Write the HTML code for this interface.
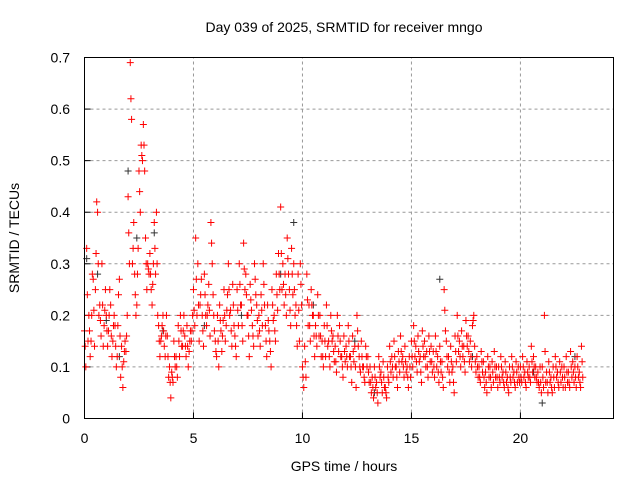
<!DOCTYPE html>
<html><head><meta charset="utf-8"><style>
html,body{margin:0;padding:0;background:#fff;}
svg text{font-family:"Liberation Sans",sans-serif;font-size:14px;fill:#000;}
</style></head><body>
<svg id="chart" width="640" height="480" xmlns="http://www.w3.org/2000/svg">
<rect width="640" height="480" fill="#fff"/>
<text x="344" y="32" text-anchor="middle">Day 039 of 2025, SRMTID for receiver mngo</text>
<text x="344" y="471" text-anchor="middle">GPS time / hours</text>
<text transform="translate(19,238) rotate(-90)" text-anchor="middle">SRMTID / TECUs</text>
<g id="grid"></g>
<g id="ticks"></g>
<g id="pts"></g>
<rect x="84.5" y="57.5" width="529" height="361" fill="none" stroke="#000" stroke-width="1"/>
</svg>
<script>
const xTicks=[0,5,10,15,20];
const yTicks=[0,0.1,0.2,0.3,0.4,0.5,0.6,0.7];
const yTickLabels=["0","0.1","0.2","0.3","0.4","0.5","0.6","0.7"];
const redUpper=[0.17,0.33,0.2,0.15,0.27,0.25,0.4,0.22,0.3,0.18,
0.2,0.17,0.22,0.15,0.18,0.12,0.27,0.14,0.11,0.13,
0.43,0.69,0.3,0.28,0.22,0.48,0.53,0.57,0.35,0.3,
0.32,0.22,0.38,0.4,0.18,0.15,0.2,0.12,0.16,0.1,
0.09,0.15,0.12,0.18,0.2,0.14,0.16,0.18,0.13,0.15,
0.25,0.35,0.3,0.22,0.2,0.28,0.18,0.26,0.38,0.24,
0.15,0.2,0.22,0.13,0.25,0.18,0.3,0.21,0.26,0.16,
0.25,0.3,0.22,0.34,0.28,0.2,0.26,0.18,0.3,0.22,
0.2,0.24,0.3,0.18,0.22,0.15,0.25,0.2,0.28,0.32,
0.41,0.3,0.28,0.35,0.25,0.33,0.3,0.22,0.28,0.3,
0.1,0.14,0.28,0.22,0.25,0.2,0.18,0.24,0.2,0.15,
0.18,0.22,0.15,0.2,0.16,0.14,0.2,0.18,0.12,0.16,
0.14,0.18,0.12,0.16,0.14,0.2,0.12,0.15,0.1,0.14,
0.12,0.1,0.08,0.1,0.07,0.12,0.09,0.11,0.06,0.1,
0.14,0.12,0.15,0.1,0.13,0.16,0.12,0.14,0.1,0.12,
0.15,0.18,0.14,0.16,0.12,0.17,0.15,0.13,0.16,0.14,
0.13,0.16,0.12,0.14,0.11,0.25,0.15,0.12,0.14,0.1,
0.16,0.2,0.15,0.17,0.14,0.19,0.16,0.15,0.18,0.14,
0.12,0.1,0.13,0.11,0.09,0.12,0.1,0.11,0.13,0.1,
0.1,0.12,0.09,0.11,0.08,0.1,0.12,0.09,0.11,0.1,
0.1,0.12,0.09,0.11,0.1,0.14,0.12,0.1,0.09,0.1,
0.1,0.2,0.09,0.11,0.08,0.1,0.12,0.09,0.11,0.1,
0.1,0.12,0.09,0.13,0.11,0.1,0.12,0.09,0.14];
const redLower=[0.1,0.15,0.12,0.28,0.14,0.42,0.2,0.16,0.14,0.25,
0.14,0.25,0.12,0.2,0.1,0.24,0.08,0.06,0.15,0.2,
0.3,0.58,0.38,0.2,0.33,0.4,0.5,0.48,0.25,0.28,
0.25,0.3,0.28,0.2,0.12,0.18,0.14,0.2,0.08,0.04,
0.07,0.1,0.08,0.12,0.14,0.2,0.12,0.1,0.17,0.2,
0.18,0.2,0.15,0.27,0.14,0.2,0.22,0.16,0.3,0.17,
0.12,0.1,0.17,0.19,0.15,0.24,0.2,0.14,0.18,0.12,
0.18,0.22,0.15,0.25,0.2,0.12,0.21,0.14,0.24,0.16,
0.14,0.18,0.22,0.12,0.17,0.1,0.19,0.15,0.21,0.25,
0.25,0.22,0.2,0.28,0.18,0.24,0.2,0.14,0.15,0.22,
0.06,0.08,0.18,0.15,0.2,0.12,0.14,0.16,0.12,0.1,
0.12,0.14,0.1,0.15,0.11,0.09,0.13,0.12,0.08,0.11,
0.1,0.12,0.07,0.11,0.06,0.14,0.09,0.1,0.07,0.1,
0.07,0.05,0.04,0.06,0.03,0.08,0.05,0.06,0.04,0.07,
0.09,0.08,0.1,0.06,0.09,0.11,0.08,0.09,0.06,0.08,
0.1,0.12,0.09,0.11,0.07,0.12,0.1,0.08,0.11,0.09,
0.08,0.1,0.07,0.09,0.06,0.17,0.1,0.07,0.09,0.05,
0.11,0.13,0.1,0.12,0.09,0.14,0.11,0.1,0.2,0.09,
0.08,0.07,0.09,0.06,0.05,0.08,0.06,0.07,0.08,0.06,
0.07,0.08,0.06,0.07,0.05,0.07,0.08,0.06,0.07,0.07,
0.07,0.08,0.06,0.08,0.07,0.09,0.08,0.07,0.06,0.05,
0.06,0.07,0.05,0.07,0.05,0.06,0.08,0.06,0.07,0.06,
0.06,0.07,0.06,0.08,0.07,0.06,0.08,0.06,0.08];
const redMidA=[0.14,0.24,0.17,0.2,0.21,0.32,0.3,0.19,0.22,0.21,
0.17,0.2,0.16,0.18,0.14,0.18,0.16,0.1,0.13,0.16,
0.36,0.62,0.33,0.24,0.28,0.44,0.51,0.53,0.3,0.29,
0.28,0.26,0.33,0.3,0.15,0.16,0.17,0.16,0.12,0.07,
0.08,0.12,0.1,0.15,0.17,0.17,0.14,0.14,0.15,0.17,
0.21,0.27,0.22,0.24,0.17,0.24,0.2,0.21,0.34,0.2,
0.13,0.15,0.19,0.16,0.2,0.21,0.25,0.17,0.22,0.14,
0.21,0.26,0.18,0.29,0.24,0.16,0.23,0.16,0.27,0.19,
0.17,0.21,0.26,0.15,0.19,0.13,0.22,0.17,0.24,0.28,
0.32,0.26,0.24,0.31,0.21,0.28,0.25,0.18,0.21,0.26,
0.08,0.11,0.23,0.18,0.22,0.16,0.16,0.2,0.16,0.12,
0.15,0.18,0.12,0.17,0.13,0.11,0.16,0.15,0.1,0.13,
0.12,0.15,0.1,0.13,0.1,0.17,0.1,0.12,0.08,0.12,
0.09,0.07,0.06,0.08,0.05,0.1,0.07,0.08,0.05,0.08,
0.11,0.1,0.12,0.08,0.11,0.13,0.1,0.11,0.08,0.1,
0.12,0.15,0.11,0.13,0.09,0.14,0.12,0.1,0.13,0.11,
0.1,0.13,0.09,0.11,0.08,0.21,0.12,0.09,0.11,0.07,
0.13,0.16,0.12,0.14,0.11,0.16,0.13,0.12,0.19,0.11,
0.1,0.08,0.11,0.08,0.07,0.1,0.08,0.09,0.1,0.08,
0.08,0.1,0.07,0.09,0.06,0.08,0.1,0.07,0.09,0.08,
0.08,0.1,0.07,0.09,0.08,0.11,0.1,0.08,0.07,0.07,
0.08,0.13,0.07,0.09,0.06,0.08,0.1,0.07,0.09,0.08,
0.08,0.09,0.07,0.1,0.09,0.08,0.1,0.07,0.11];
const blackTimes=[0.1,0.6,1.0,1.6,2.0,2.4,3.2,3.6,5.5,7.2,9.0,9.6,10.5,12.4,13.3,16.3,17.8,20.6,21.0,22.5];
const blackValues=[0.31,0.28,0.19,0.12,0.48,0.35,0.36,0.17,0.18,0.2,0.28,0.38,0.22,0.15,0.05,0.27,0.12,0.09,0.03,0.12];
const stepHours=0.1;

const X0=84.5,X1=613.5,Y0=418.5,Y1=57.5,XMAX=24.27,YMAX=0.7;
const sx=h=>X0+(X1-X0)*h/XMAX;
const sy=v=>Y0-(Y0-Y1)*v/YMAX;
const NS="http://www.w3.org/2000/svg";
const grid=document.getElementById('grid'),ticks=document.getElementById('ticks'),pts=document.getElementById('pts');
function mk(tag,attrs,parent){const e=document.createElementNS(NS,tag);for(const k in attrs)e.setAttribute(k,attrs[k]);parent.appendChild(e);return e;}
xTicks.forEach(t=>{const x=sx(t);
 if(t>0){const g=mk('line',{x1:x,x2:x,y1:Y0,y2:Y1,stroke:'#999','stroke-dasharray':'3,3'},grid);
 
 }
 const l=mk('line',{x1:x,x2:x,y1:Y0,y2:Y0-6,stroke:'#000'},ticks);
 
 
 const tx=mk('text',{x:x,y:443,'text-anchor':'middle'},ticks);tx.textContent=String(t);
 
 
});
yTicks.forEach((t,i)=>{const y=sy(t);
 if(t>0&&t<0.7){const g=mk('line',{x1:X0,x2:X1,y1:y,y2:y,stroke:'#999','stroke-dasharray':'3,3'},grid);
 
 }
 const l=mk('line',{x1:X0,x2:X0+6,y1:y,y2:y,stroke:'#000'},ticks);
 
 
 const tx=mk('text',{x:70,y:y+5,'text-anchor':'end'},ticks);tx.textContent=yTickLabels[i];
 
 
});
function plus(h,v,c,name){const x=sx(h),y=sy(v);
 const p=mk('path',{d:`M${x-3.5},${y}H${x+3.5}M${x},${y-3.5}V${y+3.5}`,stroke:c,'stroke-width':1,fill:'none'},pts);
 
 }
blackTimes.forEach((h,i)=>plus(h,blackValues[i],'#333','black-point'));
redUpper.forEach((v,i)=>plus(i*stepHours,v,'#f00','red-point'));
redMidA.forEach((v,i)=>plus(i*stepHours+0.03,v,'#f00','red-point'));
redLower.forEach((v,i)=>plus(i*stepHours+0.06,v,'#f00','red-point'));
</script>
</body></html>
